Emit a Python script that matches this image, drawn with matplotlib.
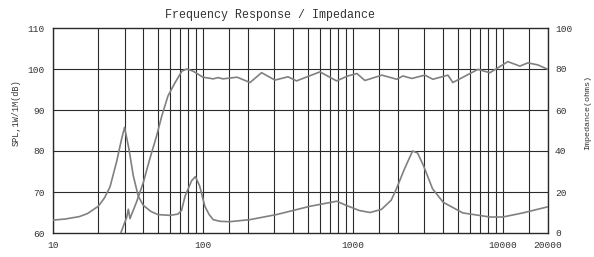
import matplotlib
matplotlib.use("Agg")
import matplotlib.pyplot as plt
import numpy as np

# SPL (dB) vs frequency (Hz)
spl_freq = [28.3, 31.0, 31.8, 32.6, 36.1, 40.0, 44.3, 49.1, 53.1, 58.4, 65.0, 72.4, 78.2, 85.7,
            100, 117, 126, 136, 169, 206, 246, 302, 369, 421, 603, 778, 926, 1063, 1202,
            1560, 1965, 2154, 2473, 3020, 3414, 4300, 4640, 6810, 8200, 10800, 12980,
            14680, 17100, 20000]
spl_db = [60.0, 63.8, 65.8, 63.5, 67.6, 72.3, 78.2, 83.7, 88.5, 93.4, 96.6, 99.5, 100.0, 99.5,
          98.0, 97.6, 97.9, 97.6, 98.0, 96.7, 99.1, 97.3, 98.1, 97.1, 99.3, 97.1, 98.3, 98.9, 97.2,
          98.5, 97.5, 98.3, 97.7, 98.5, 97.5, 98.5, 96.7, 99.9, 99.1, 101.8, 100.7,
          101.5, 101.0, 99.9]

# Impedance (ohms) vs frequency (Hz)
imp_freq = [10, 12, 15, 17, 20, 22, 24, 26.6, 28.7, 30, 32, 34.3, 37, 40, 45, 50, 60, 68, 72,
            76, 84, 89, 95, 103, 110, 117, 130, 150, 205, 310, 515, 780, 900, 1100, 1300, 1550,
            1800, 1950, 2200, 2500, 2700, 2950, 3400, 4000, 5400, 8200, 10000, 13600, 20000]
imp_ohm = [6.3, 6.8, 8.0, 9.5, 13.0, 17.0, 22.5, 35.0, 46.0, 51.5, 41.5, 28.0, 18.0, 13.5, 10.5,
           9.0, 8.6, 9.2, 11.0, 18.0, 25.5, 27.5, 23.0, 13.0, 9.0, 6.5, 5.7, 5.5, 6.5, 9.0, 13.0,
           15.5, 13.5, 11.0, 10.0, 11.5, 16.0, 21.5, 31.0, 40.0, 39.0, 33.0, 21.5, 15.0, 9.8, 7.8,
           7.8, 9.8, 12.8]

x_grid = [10, 20, 30, 40, 50, 60, 70, 80, 90, 100, 150, 200, 300, 400, 500, 600, 700, 800, 900,
          1000, 1500, 2000, 3000, 4000, 5000, 6000, 7000, 8000, 9000, 10000, 15000, 20000]
x_ticks = [10, 100, 1000, 10000, 20000]
x_ticklabels = ["10", "100", "1000", "10000", "20000"]
spl_ticks = [60, 70, 80, 90, 100, 110]
imp_ticks = [0, 20, 40, 60, 80, 100]

FONT = "Liberation Mono"
TXT = "#333333"
GRID = "#2a2a2a"
CURVE = "#808080"

fig = plt.figure(figsize=(5.94, 2.57), dpi=100)
ax = fig.add_axes([53/594, 1 - 233/257, (548 - 53)/594, (233 - 28)/257])
ax.set_xscale("log")
ax.set_xlim(10, 20000)
ax.set_ylim(60, 110)

for xv in x_grid:
    ax.axvline(xv, color=GRID, lw=0.8, zorder=1)
for yv in spl_ticks[1:-1]:
    ax.axhline(yv, color=GRID, lw=0.8, zorder=1)

ax.plot(spl_freq, spl_db, color=CURVE, lw=1.2, zorder=3)

ax.set_xticks(x_ticks)
ax.set_xticklabels(x_ticklabels)
ax.xaxis.set_minor_locator(matplotlib.ticker.NullLocator())
ax.set_yticks(spl_ticks)
ax.set_yticklabels([str(v) for v in spl_ticks])
ax.tick_params(length=0, labelsize=6.8, colors=TXT, pad=6)
for lab in ax.get_xticklabels() + ax.get_yticklabels():
    lab.set_fontfamily(FONT)
for s in ax.spines.values():
    s.set_color(GRID)
    s.set_linewidth(1.0)

ax2 = ax.twinx()
ax2.set_ylim(0, 100)
ax2.plot(imp_freq, imp_ohm, color=CURVE, lw=1.2, zorder=3)
ax2.set_yticks(imp_ticks)
ax2.set_yticklabels([str(v) for v in imp_ticks])
ax2.tick_params(length=0, labelsize=6.8, colors=TXT, pad=5)
for lab in ax2.get_yticklabels():
    lab.set_fontfamily(FONT)
for s in ax2.spines.values():
    s.set_visible(False)

fig.text(270/594, 1 - 15/257, "Frequency Response / Impedance", ha="center", va="center",
         fontsize=8.4, family=FONT, color=TXT)
fig.text(16/594, 1 - 113/257, "SPL,1W/1M(dB)", rotation=90, ha="center", va="center",
         fontsize=6.2, family=FONT, color=TXT)
fig.text(588/594, 1 - 113/257, "Impedance(ohms)", rotation=90, ha="center", va="center",
         fontsize=6.0, family=FONT, color=TXT)

fig.savefig("out.png", dpi=100)
